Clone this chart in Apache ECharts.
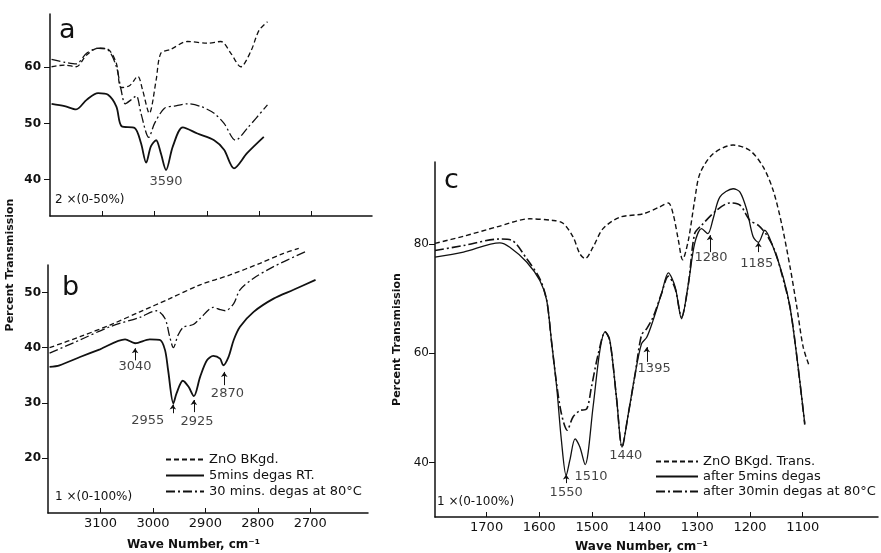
<!DOCTYPE html>
<html>
<head>
<meta charset="utf-8">
<script src="https://cdn.jsdelivr.net/npm/echarts@6/dist/echarts.min.js"></script>
<style>
  html, body { margin: 0; padding: 0; background: #fff; }
  #chart { width: 881px; height: 553px; }
</style>
</head>
<body>
<div id="chart"></div>
<script>
// ---- data: [wave number cm-1, % transmission] ----
// panel a (2x scale expansion)
const aBkgd = [[3797,60.1],[3772,60.4],[3750,60.1],[3730,62.2],[3708,63.4],[3689,63.2],[3673,60.7],[3664,56.4],[3648,56.7],[3632,58.4],[3623,56.0],[3610,51.8],[3597,57.7],[3588,62.5],[3569,63.2],[3537,64.6],[3499,64.3],[3473,64.6],[3454,62.5],[3435,60.1],[3416,62.8],[3400,66.6],[3384,68.1]];
const a5min = [[3797,53.5],[3772,53.1],[3750,52.5],[3730,54.2],[3708,55.4],[3689,55.1],[3673,53.0],[3663,49.5],[3638,49.2],[3626,46.5],[3616,43.0],[3607,45.9],[3597,47.0],[3588,44.7],[3578,41.7],[3565,45.9],[3546,49.3],[3518,48.2],[3486,47.0],[3467,45.3],[3448,42.0],[3423,44.7],[3391,47.6]];
const a30min = [[3797,61.4],[3772,60.9],[3750,60.6],[3730,62.5],[3708,63.4],[3689,63.1],[3673,60.1],[3664,56.0],[3656,53.5],[3645,54.2],[3635,54.9],[3626,51.8],[3611,47.5],[3600,50.0],[3581,52.7],[3562,53.1],[3537,53.5],[3511,53.0],[3486,51.8],[3467,50.0],[3445,47.0],[3423,49.1],[3384,53.3]];

// panel b
const bBkgd = [[3197,40.0],[3139,42.0],[3082,44.1],[3025,46.5],[2968,48.9],[2910,51.4],[2853,53.2],[2796,55.3],[2751,57.1],[2722,58.0]];
const b5min = [[3197,36.5],[3178,36.8],[3139,38.3],[3101,39.7],[3053,41.5],[3034,40.8],[3006,41.5],[2987,41.4],[2977,39.6],[2971,35.9],[2961,29.9],[2955,31.7],[2943,34.0],[2932,32.9],[2922,31.2],[2910,34.7],[2897,37.7],[2885,38.5],[2872,38.0],[2866,36.8],[2856,38.3],[2846,41.4],[2834,43.8],[2808,46.5],[2770,48.9],[2732,50.5],[2690,52.3]];
const b30min = [[3197,39.0],[3139,41.4],[3082,43.8],[3025,45.5],[2993,46.7],[2977,45.3],[2968,42.0],[2961,40.0],[2952,42.3],[2942,43.7],[2923,44.2],[2910,45.3],[2885,47.3],[2872,46.9],[2862,46.7],[2846,48.0],[2834,50.5],[2808,52.6],[2770,54.7],[2710,57.4]];

// panel c
const cBkgd = [[1798,80.1],[1744,81.4],[1681,83.1],[1618,84.6],[1574,84.3],[1555,83.8],[1536,81.3],[1523,78.2],[1513,77.3],[1498,79.4],[1479,82.8],[1447,84.9],[1403,85.5],[1371,86.8],[1355,87.5],[1346,85.5],[1336,80.7],[1328,77.1],[1317,80.7],[1305,88.0],[1295,92.9],[1270,96.5],[1232,98.1],[1200,97.1],[1175,94.1],[1156,89.8],[1140,83.7],[1124,75.8],[1111,68.4],[1099,61.1],[1087,57.5]];
const c5min = [[1798,77.6],[1744,78.5],[1675,80.2],[1656,79.4],[1624,76.7],[1599,73.3],[1586,69.7],[1577,62.3],[1567,53.8],[1558,44.0],[1549,37.6],[1542,40.4],[1532,44.3],[1523,42.8],[1513,39.6],[1498,50.1],[1485,60.5],[1475,63.9],[1466,62.3],[1453,51.4],[1443,42.8],[1431,48.9],[1418,56.2],[1406,61.7],[1396,62.9],[1384,66.0],[1368,70.9],[1355,74.7],[1342,72.1],[1330,66.3],[1317,72.7],[1305,80.1],[1292,82.8],[1280,81.9],[1270,84.6],[1257,88.6],[1232,90.1],[1219,89.5],[1206,86.2],[1194,81.3],[1184,80.3],[1172,82.5],[1156,79.4],[1137,73.9],[1124,68.4],[1111,59.3],[1096,47.1]];
const c30min = [[1798,78.8],[1744,79.7],[1675,80.9],[1653,80.7],[1624,77.3],[1599,73.6],[1586,69.7],[1577,62.3],[1568,55.0],[1558,48.9],[1547,45.9],[1536,48.3],[1523,49.5],[1510,49.8],[1501,53.8],[1488,59.9],[1475,63.9],[1466,62.3],[1453,51.4],[1443,42.8],[1431,48.9],[1418,56.2],[1406,63.3],[1396,64.5],[1384,66.6],[1368,70.9],[1355,74.1],[1342,71.8],[1330,66.6],[1317,72.7],[1305,81.9],[1292,83.4],[1263,86.2],[1238,87.5],[1219,87.1],[1200,84.3],[1184,83.4],[1168,81.6],[1153,78.8],[1140,74.6],[1124,68.4],[1111,59.3],[1096,46.9]];

// tick values
const ticksA_x = [3700, 3600, 3500, 3400, 3300];
const ticksB_x = [3100, 3000, 2900, 2800, 2700];
const ticksC_x = [1700, 1600, 1500, 1400, 1300, 1200, 1100];
const ticksA_y = [40, 50, 60];
const ticksB_y = [20, 30, 40, 50];
const ticksC_y = [40, 60, 80];

// band labels [wave number, %T, text] and arrows [wn, from, to]
const peaksA = [[3578, 39.6, '3590']];
const peaksB = [[3034, 36.5, '3040'], [3010, 26.8, '2955'], [2916, 26.5, '2925'], [2858, 31.7, '2870']];
const peaksC = [[1549, 34.4, '1550'], [1502, 37.4, '1510'], [1436, 41.3, '1440'], [1382, 57.2, '1395'], [1274, 77.5, '1280'], [1187, 76.4, '1185']];
const arrowsB = [[3034, 37.7, 39.9], [2962, 28.1, 29.7], [2922, 28.3, 30.5], [2864, 33.2, 35.6]];
const arrowsC = [[1549, 36.2, 37.8], [1396, 58.4, 61.1], [1276, 78.5, 81.6], [1184, 78.5, 80.3]];

const legendB = ['ZnO BKgd.', '5mins degas RT.', '30 mins. degas at 80°C'];
const legendC = ['ZnO BKgd. Trans.', 'after 5mins degas', 'after 30min degas at 80°C'];

const FONT = 'DejaVu Sans';
const INK = '#111';
const DASH = [5, 3];
const DASHDOT = [9, 3, 2, 3];

function xAxisFor(grid, min, max, ticks, showLabels) {
  return {
    type: 'value', gridIndex: grid, inverse: true, min: min, max: max,
    axisLine: { lineStyle: { color: INK, width: 1.5 } },
    axisTick: { inside: true, length: 5, customValues: ticks, lineStyle: { color: INK } },
    axisLabel: {
      show: showLabels, customValues: ticks, margin: 4, color: INK, fontFamily: FONT, fontSize: 13,
      formatter: v => String(v)
    },
    splitLine: { show: false }
  };
}
function yAxisFor(grid, min, max, ticks, bold, margin) {
  return {
    type: 'value', gridIndex: grid, min: min, max: max,
    axisLine: { show: true, lineStyle: { color: INK, width: 1.5 } },
    axisTick: { show: true, inside: false, length: 6, customValues: ticks, lineStyle: { color: INK } },
    axisLabel: { customValues: ticks, margin: margin, color: INK, fontFamily: FONT, fontSize: 12, fontWeight: bold ? 'bold' : 'normal' },
    splitLine: { show: false }
  };
}
function curve(name, data, idx, dash, width) {
  return {
    name: name, type: 'line', data: data, xAxisIndex: idx, yAxisIndex: idx,
    showSymbol: false, symbol: 'none', smooth: 0.3, clip: false,
    itemStyle: { color: INK },
    lineStyle: { color: INK, width: width, type: dash }
  };
}
function bandLabels(list, idx) {
  return {
    type: 'scatter', xAxisIndex: idx, yAxisIndex: idx, data: list,
    symbol: 'rect', symbolSize: 1, itemStyle: { color: 'rgba(0,0,0,0)' }, silent: true,
    label: { show: true, position: 'inside', formatter: p => p.value[2], color: INK, fontFamily: FONT, fontSize: 13 }
  };
}
function arrows(list, idx) {
  return {
    type: 'lines', coordinateSystem: 'cartesian2d', xAxisIndex: idx, yAxisIndex: idx, silent: true,
    symbol: ['none', 'arrow'], symbolSize: 5,
    lineStyle: { color: INK, width: 1, opacity: 1 },
    data: list.map(a => ({ coords: [[a[0], a[1]], [a[0], a[2]]] }))
  };
}
function note(text, x, y, size, weight, rot) {
  return {
    type: 'text', x: x, y: y, rotation: rot || 0,
    style: { text: text, fill: INK, font: (weight || 'normal') + ' ' + size + 'px "' + FONT + '"', verticalAlign: 'middle', align: rot ? 'center' : 'left' }
  };
}
function legendFor(names, left, top, w, gap) {
  return {
    data: names, orient: 'vertical', left: left, top: top, padding: 0,
    itemWidth: w, itemHeight: 14, itemGap: gap, selectedMode: false,
    itemStyle: { opacity: 0 },
    textStyle: { color: INK, fontFamily: FONT, fontSize: 13 }
  };
}

const chartObj = echarts.init(document.getElementById('chart'));
let option = {
  backgroundColor: '#fff',
  animation: false,
  grid: [
    { left: 50, top: 14, width: 322, height: 202 },
    { left: 48, top: 265, width: 320, height: 248 },
    { left: 435, top: 162, width: 443, height: 355 }
  ],
  xAxis: [
    xAxisFor(0, 3184, 3800, ticksA_x, false),
    xAxisFor(1, 2590, 3200, ticksB_x, true),
    xAxisFor(2, 957, 1798, ticksC_x, true)
  ],
  yAxis: [
    yAxisFor(0, 33.5, 69.5, ticksA_y, true, 9),
    yAxisFor(1, 10, 55, ticksB_y, true, 7),
    Object.assign(yAxisFor(2, 30, 95, ticksC_y, false, 6), {
      name: 'Percent Transmission', nameLocation: 'middle', nameGap: 28,
      nameTextStyle: { color: INK, fontFamily: FONT, fontSize: 11, fontWeight: 'bold' }
    })
  ],
  legend: [
    legendFor(legendB, 165, 453, 38, 3),
    legendFor(legendC, 655, 455, 42, 2)
  ],
  graphic: [
    note('a', 59, 31, 27),
    note('b', 62, 288, 27),
    note('c', 444, 181, 27),
    note('2 ×(0-50%)', 55, 200, 12),
    note('1 ×(0-100%)', 55, 497, 12),
    note('1 ×(0-100%)', 437, 502, 12),
    note('Percent Transmission', 10, 265, 11, 'bold', Math.PI / 2),
    note('Wave Number, cm⁻¹', 127, 545, 12, 'bold'),
    note('Wave Number, cm⁻¹', 575, 547, 12, 'bold')
  ],
  series: [
    curve(legendB[0], aBkgd, 0, DASH, 1.3),
    curve(legendB[1], a5min, 0, 'solid', 1.8),
    curve(legendB[2], a30min, 0, DASHDOT, 1.3),
    curve(legendB[0], bBkgd, 1, DASH, 1.3),
    curve(legendB[1], b5min, 1, 'solid', 1.8),
    curve(legendB[2], b30min, 1, DASHDOT, 1.3),
    curve(legendC[0], cBkgd, 2, DASH, 1.4),
    curve(legendC[1], c5min, 2, 'solid', 1.3),
    curve(legendC[2], c30min, 2, DASHDOT, 1.6),
    bandLabels(peaksA, 0),
    bandLabels(peaksB, 1),
    bandLabels(peaksC, 2),
    arrows(arrowsB, 1),
    arrows(arrowsC, 2)
  ]
};
chartObj.setOption(option);
window.addEventListener('resize', function () {
  chartObj.resize();
});
</script>
</body>
</html>
